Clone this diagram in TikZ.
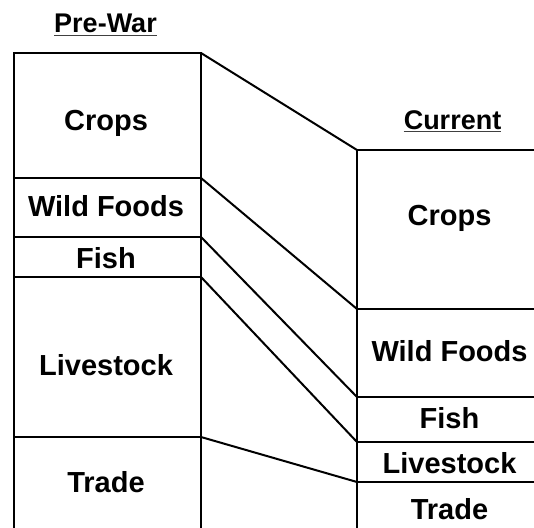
\documentclass[tikz,border=0pt]{standalone}
\usepackage{fontspec}
\setmainfont{Liberation Sans}
\usepackage{tikz}
\usetikzlibrary{calc}
\tikzset{
  seg/.style={rectangle, draw=black, line width=2.6pt, inner sep=0pt, outer sep=0pt},
  prewar/.style={seg, minimum width=187pt},
  current/.style={seg, minimum width=185pt},
  lbl/.style={font=\fontsize{29}{34}\selectfont\bfseries, anchor=base, inner sep=0pt},
  title/.style={font=\fontsize{27}{32}\selectfont\bfseries, anchor=base, inner sep=0pt},
  link/.style={line width=2pt, black},
  uline/.style={line width=1.8pt, black!75},
}

\begin{document}
\begin{tikzpicture}[x=1pt, y=-1pt]
\useasboundingbox (0,0) rectangle (534,527);
\clip (0,0) rectangle (534,527);

% Left: pre-war column
\node[prewar, minimum height=125pt] (pwCrops) at (107.5,115.5) {};
\node[prewar, minimum height=59pt]  (pwWild)  at (107.5,207.5) {};
\node[prewar, minimum height=40pt]  (pwFish)  at (107.5,257) {};
\node[prewar, minimum height=160pt] (pwLive)  at (107.5,357) {};
\node[prewar, minimum height=103pt] (pwTrade) at (107.5,488.5) {};
\node[lbl] (pwCropsT) at (106,130) {Crops};
\node[lbl] (pwWildT)  at (106,216) {Wild Foods};
\node[lbl] (pwFishT)  at (106,268) {Fish};
\node[lbl] (pwLiveT)  at (106,375) {Livestock};
\node[lbl] (pwTradeT) at (106,492) {Trade};

% Right: current column
\node[current, minimum height=159pt] (cuCrops) at (449.5,229.5) {};
\node[current, minimum height=88pt]  (cuWild)  at (449.5,353) {};
\node[current, minimum height=45pt]  (cuFish)  at (449.5,419.5) {};
\node[current, minimum height=40pt]  (cuLive)  at (449.5,462) {};
\node[current, minimum height=58pt]  (cuTrade) at (449.5,511) {};
\node[lbl] (cuCropsT) at (449.5,225) {Crops};
\node[lbl] (cuWildT)  at (449.5,361) {Wild Foods};
\node[lbl] (cuFishT)  at (449.5,428) {Fish};
\node[lbl] (cuLiveT)  at (449.5,473) {Livestock};
\node[lbl] (cuTradeT) at (449.5,519) {Trade};

% Titles
\node[title] (pwTitle) at (105.5,33) {Pre-War};
\node[title] (cuTitle) at (452.5,129) {Current};
\draw[uline] ($(pwTitle.base west)+(0,2.5)$) -- ($(pwTitle.base east)+(0,2.5)$);
\draw[uline] ($(cuTitle.base west)+(0,2.5)$) -- ($(cuTitle.base east)+(0,2.5)$);

% Connectors
\draw[link] (pwCrops.north east) -- (cuCrops.north west);
\draw[link] (pwWild.north east) -- (cuWild.north west);
\draw[link] (pwFish.north east) -- (cuFish.north west);
\draw[link] (pwLive.north east) -- (cuLive.north west);
\draw[link] (pwTrade.north east) -- (cuTrade.north west);
\end{tikzpicture}
\end{document}
